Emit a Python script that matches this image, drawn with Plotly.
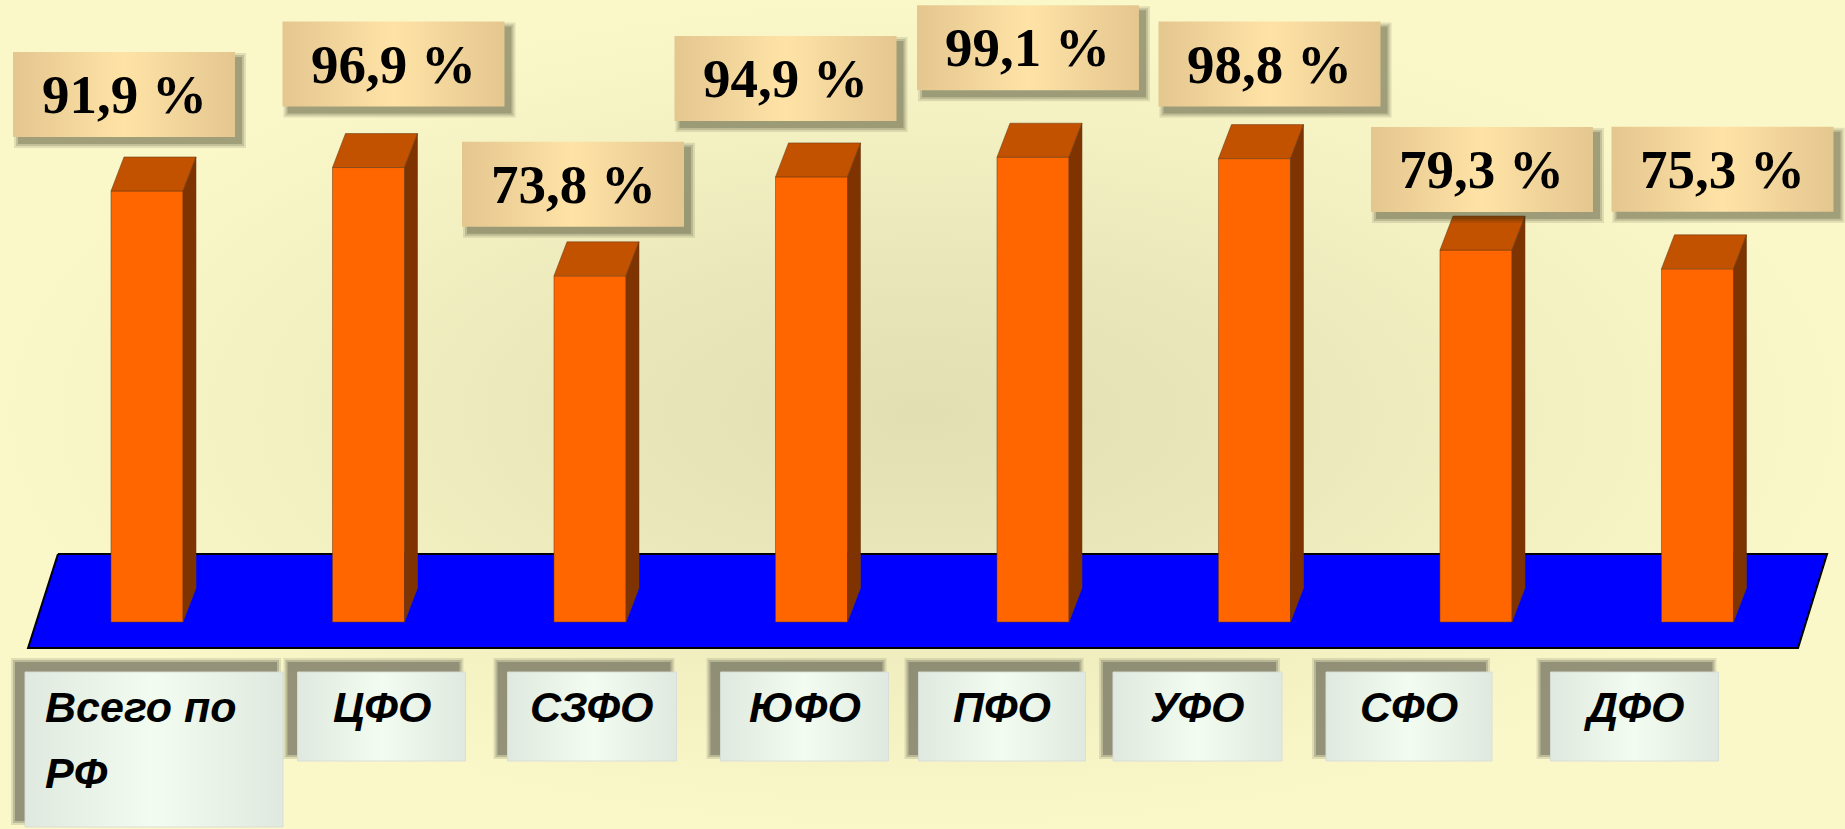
import plotly.graph_objects as go

# ---------------- data ----------------
categories = ["Всего по<br>РФ", "ЦФО", "СЗФО", "ЮФО", "ПФО", "УФО", "СФО", "ДФО"]
values = [91.9, 96.9, 73.8, 94.9, 99.1, 98.8, 79.3, 75.3]

# ---------------- layout constants ----------------
W, H = 1845, 829
X_RANGE = [-0.6637, 7.666]
Y_RANGE = [-44.14, 132.62]
XS = W / (X_RANGE[1] - X_RANGE[0])   # px per category unit
YS = H / (Y_RANGE[1] - Y_RANGE[0])   # px per value unit


def px_x(p):
    return p / XS


def px_y(p):
    return p / YS


def pix_to_y(pix):  # pixel row (from top) -> data y
    return Y_RANGE[1] - pix / YS


BAR_W = 72          # px
DEPTH_X, DEPTH_Y = 13, 34   # px

FRONT = "#FF6600"
TOP = "#C25100"
SIDE = "#7E3300"
EDGE = "rgba(110,60,20,0.55)"

VAL_BOX_W, VAL_BOX_H = 222, 85
VAL_GAP = 54
VAL_NUDGE_X = [-23, 25, -17, -26, -5, 15, 6, 25]
VAL_NUDGE_Y = [0, 7, -5, 2, 13, -2, -16, 3]

CAT_NUDGE_X = [7, 13, 2, -7, -31, -57, -67, -63]
CAT_BOX_W = [258, 168, 169, 168, 167, 169, 166, 168]
CAT_BOX_TOP = 672
CAT_LINE_H = 66
CAT_BOX_H1 = 89

FLOOR_LEFT_TOP, FLOOR_LEFT_BOT = -0.402, -0.537
FLOOR_RIGHT_PAD_TOP, FLOOR_RIGHT_PAD_BOT = 0.585, 0.454
FLOOR_TOP, FLOOR_BOT = 14.5, -5.54

fig = go.Figure()


def poly(xs, ys, axis=2, **kw):
    xs = list(xs) + [xs[0]]
    ys = list(ys) + [ys[0]]
    return go.Scatter(
        x=xs, y=ys, mode="lines", fill="toself", hoverinfo="skip",
        xaxis="x" if axis == 1 else "x2", yaxis="y" if axis == 1 else "y2",
        **kw,
    )


# ---------------- background (subplot 1) ----------------
fig.add_trace(poly(
    [X_RANGE[0], X_RANGE[1], X_RANGE[1], X_RANGE[0]],
    [Y_RANGE[0], Y_RANGE[0], Y_RANGE[1], Y_RANGE[1]],
    axis=1, line=dict(width=0),
    fillgradient=dict(type="radial", colorscale=[
        [0, "#E2E0B2"], [0.35, "#E9E7B9"], [0.7, "#F3F1C2"], [1, "#FAF8C9"]]),
))

# floor
n = len(categories)
fig.add_trace(poly(
    [FLOOR_LEFT_TOP, n - 1 + FLOOR_RIGHT_PAD_TOP, n - 1 + FLOOR_RIGHT_PAD_BOT, FLOOR_LEFT_BOT],
    [FLOOR_TOP, FLOOR_TOP, FLOOR_BOT, FLOOR_BOT],
    axis=1, fillcolor="#0000FF", line=dict(color="black", width=2),
))

# ---------------- bars (subplot 2, on top) ----------------
xi = list(range(n))
bw = px_x(BAR_W)
ddx, ddy = px_x(DEPTH_X), px_y(DEPTH_Y)

fig.add_trace(go.Bar(
    x=xi, y=values, width=bw, marker=dict(color=FRONT, line=dict(color=EDGE, width=1)),
    xaxis="x2", yaxis="y2", hoverinfo="skip",
))

for i, v in zip(xi, values):
    l, r = i - bw / 2, i + bw / 2
    fig.add_trace(poly([l, r, r + ddx, l + ddx], [v, v, v + ddy, v + ddy],
                       fillcolor=TOP, line=dict(color=EDGE, width=1)))
    fig.add_trace(poly([r, r + ddx, r + ddx, r], [0, ddy, v + ddy, v],
                       fillcolor=SIDE, line=dict(color=EDGE, width=1)))

annotations = []

# ---------------- value labels ----------------
for i, v in enumerate(values):
    cx = i + px_x(VAL_NUDGE_X[i])
    y0 = v + px_y(VAL_GAP + VAL_NUDGE_Y[i])
    y1 = y0 + px_y(VAL_BOX_H)
    x0 = cx - px_x(VAL_BOX_W / 2)
    x1 = cx + px_x(VAL_BOX_W / 2)
    # shadow (offset right/down)
    for k, a in ((5, 0.12), (3, 0.16), (1, 0.22)):
        sx, sy = px_x(6), px_y(6)
        fig.add_trace(poly(
            [x0 + sx - px_x(k), x1 + sx + px_x(k), x1 + sx + px_x(k), x0 + sx - px_x(k)],
            [y0 - sy - px_y(k), y0 - sy - px_y(k), y1 - sy + px_y(k), y1 - sy + px_y(k)],
            fillcolor=f"rgba(40,40,20,{a})", line=dict(width=0)))
    fig.add_trace(poly(
        [x0, x1, x1, x0], [y0, y0, y1, y1], line=dict(width=0),
        fillgradient=dict(type="horizontal", colorscale=[
            [0, "#E4C68F"], [0.5, "#FFE3A6"], [1, "#E4C68F"]]),
    ))
    label = f"{v:.1f}".replace(".", ",") + " %"
    annotations.append(dict(
        x=cx, y=(y0 + y1) / 2, xref="x2", yref="y2", text=label, showarrow=False,
        xanchor="center", yanchor="middle",
        font=dict(family="Liberation Serif, Times New Roman, serif", size=55,
                  color="black", weight="bold"),
    ))

# ---------------- category labels ----------------
for i, cat in enumerate(categories):
    lines = cat.split("<br>")
    cx = i + px_x(CAT_NUDGE_X[i])
    x0 = cx - px_x(CAT_BOX_W[i] / 2)
    x1 = cx + px_x(CAT_BOX_W[i] / 2)
    top_pix = CAT_BOX_TOP
    bot_pix = top_pix + CAT_BOX_H1 + (len(lines) - 1) * CAT_LINE_H
    y1 = pix_to_y(top_pix)
    y0 = pix_to_y(bot_pix)
    for k, a in ((6, 0.12), (4, 0.18), (2, 0.25)):
        sx, sy = px_x(8), px_y(8)
        fig.add_trace(poly(
            [x0 - sx - px_x(k), x1 - sx + px_x(k), x1 - sx + px_x(k), x0 - sx - px_x(k)],
            [y0 + sy - px_y(k), y0 + sy - px_y(k), y1 + sy + px_y(k), y1 + sy + px_y(k)],
            fillcolor=f"rgba(30,30,30,{a})", line=dict(width=0)))
    fig.add_trace(poly(
        [x0, x1, x1, x0], [y0, y0, y1, y1], line=dict(color="rgba(215,220,215,0.9)", width=1),
        fillgradient=dict(type="horizontal", colorscale=[
            [0, "#DFE9DF"], [0.5, "#F2FCF0"], [1, "#DFE9DF"]]),
    ))
    font = dict(family="Liberation Sans, Arial, sans-serif", size=43, color="black",
                weight="bold", style="italic")
    for j, line in enumerate(lines):
        ty = pix_to_y(707 + j * CAT_LINE_H)
        if len(lines) > 1:
            annotations.append(dict(x=x0 + px_x(18), y=ty, xref="x2", yref="y2", text=line,
                                    showarrow=False, xanchor="left", yanchor="middle", font=font))
        else:
            annotations.append(dict(x=cx, y=ty, xref="x2", yref="y2", text=line,
                                    showarrow=False, xanchor="center", yanchor="middle", font=font))

fig.update_layout(
    width=W, height=H, margin=dict(l=0, r=0, t=0, b=0, pad=0),
    paper_bgcolor="#F6F4C4", plot_bgcolor="#F6F4C4",
    showlegend=False, hovermode=False,
    xaxis=dict(range=X_RANGE, visible=False, fixedrange=True),
    yaxis=dict(range=Y_RANGE, visible=False, fixedrange=True),
    xaxis2=dict(range=X_RANGE, visible=False, overlaying="x", fixedrange=True),
    yaxis2=dict(range=Y_RANGE, visible=False, overlaying="y", fixedrange=True),
    annotations=annotations,
)

fig.write_html(
    "out.html",
    config={"displayModeBar": False, "staticPlot": True},
    post_script="document.body.style.margin='0';document.body.style.overflow='hidden';",
)
